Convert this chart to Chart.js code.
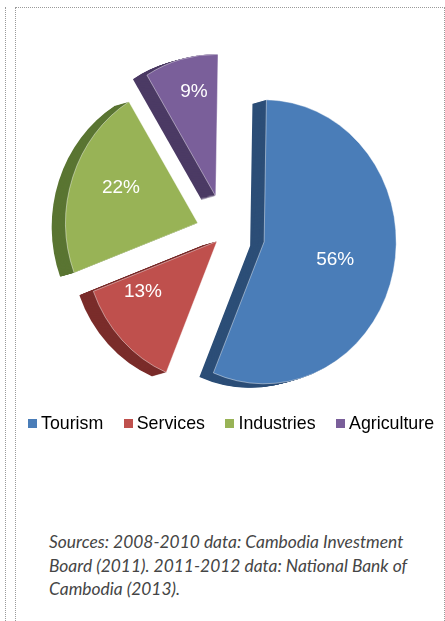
<!DOCTYPE html>
<html>
<head>
<meta charset="utf-8">
<script src="https://cdn.jsdelivr.net/npm/chart.js@4/dist/chart.umd.min.js"></script>
<style>
  html, body { margin: 0; padding: 0; background: #fff; }
  body { width: 445px; height: 621px; position: relative; overflow: hidden; }
  .rule-left { position: absolute; left: 5px; top: 7px; bottom: 0; border-left: 1px dotted #9a9a9a; }
  .frame { position: absolute; left: 15px; top: 7px; width: 428px; bottom: -2px;
           border-left: 1px dotted #9a9a9a; border-top: 1px dotted #9a9a9a; border-right: 1px dotted #9a9a9a; }
  #pieBox { position: absolute; left: 25px; top: 33px; width: 400px; height: 400px; }
  #legend { position: absolute; left: 28px; top: 413px; display: flex; gap: 20.5px;
            font-family: "Liberation Sans", Arial, sans-serif; font-size: 17.8px; color: #000; }
  #legend .item { display: flex; align-items: center; gap: 4px; white-space: nowrap; }
  #legend .sw { width: 9px; height: 9px; display: inline-block; }
  #source { position: absolute; left: 49px; top: 530px; font-family: Lato, "Open Sans", sans-serif;
            font-style: italic; font-size: 17.4px; line-height: 23.5px; color: #454545; white-space: nowrap; }
</style>
</head>
<body>
<div class="rule-left"></div>
<div class="frame"></div>
<div id="pieBox"><canvas id="pie"></canvas></div>
<div id="legend"></div>
<div id="source">Sources: 2008-2010 data: Cambodia Investment<br>Board (2011). 2011-2012 data: National Bank of<br>Cambodia (2013).</div>
<script>
// Share of investment by sector (percent)
const sectors = ['Tourism', 'Services', 'Industries', 'Agriculture'];
const shares = [56, 13, 22, 9];

// Slice colours: front face and darker side wall
const faceColors = ['#4a7db8', '#bf504d', '#98b356', '#7a5f9a'];
const sideColors = ['#2c4e77', '#7a2c2a', '#5a7532', '#4b3a64'];

// Exploded layout: distance each slice is pulled out from the centre
const explode = [43, 12, 31, 38];
// Where each percentage label sits: fraction of radius, fraction across the slice angle
const labelRadius = [0.553, 0.665, 0.631, 0.753];
const labelSweep = [0.508, 0.746, 0.549, 0.58];

const squeezeX = 0.93;          // slight perspective squash
const depth = { x: -14, y: 4 }; // extrusion of the side wall

function sliceTransform(ctx, arc, i, dx, dy) {
  const mid = (arc.startAngle + arc.endAngle) / 2;
  ctx.translate(dx, dy);
  ctx.translate(arc.x, arc.y);
  ctx.scale(squeezeX, 1);
  ctx.translate(-arc.x, -arc.y);
  ctx.translate(Math.cos(mid) * explode[i], Math.sin(mid) * explode[i]);
}

const explodedPie = {
  id: 'explodedPie',
  beforeDatasetDraw(chart, args) {
    const ctx = chart.ctx;
    const arcs = args.meta.data;
    // side walls first, so every face sits on top
    arcs.forEach((arc, i) => {
      const steps = 16;
      ctx.fillStyle = sideColors[i];
      for (let k = steps; k >= 1; k--) {
        ctx.save();
        sliceTransform(ctx, arc, i, depth.x * k / steps, depth.y * k / steps);
        ctx.beginPath();
        ctx.moveTo(arc.x, arc.y);
        ctx.arc(arc.x, arc.y, arc.outerRadius, arc.startAngle, arc.endAngle);
        ctx.closePath();
        ctx.fill();
        ctx.restore();
      }
    });
    // front faces
    arcs.forEach((arc, i) => {
      ctx.save();
      sliceTransform(ctx, arc, i, 0, 0);
      arc.draw(ctx);
      ctx.restore();
    });
    // percentage labels
    const total = shares.reduce((a, b) => a + b, 0);
    ctx.save();
    ctx.fillStyle = '#ffffff';
    ctx.font = '19px "Liberation Sans", Arial, sans-serif';
    ctx.textAlign = 'center';
    ctx.textBaseline = 'middle';
    arcs.forEach((arc, i) => {
      const mid = (arc.startAngle + arc.endAngle) / 2;
      const ang = arc.startAngle + (arc.endAngle - arc.startAngle) * labelSweep[i];
      const r = arc.outerRadius * labelRadius[i];
      const ux = Math.cos(mid) * explode[i] + Math.cos(ang) * r;
      const uy = Math.sin(mid) * explode[i] + Math.sin(ang) * r;
      ctx.fillText(Math.round(shares[i] / total * 100) + '%', arc.x + ux * squeezeX, arc.y + uy);
    });
    ctx.restore();
    return false;
  }
};

new Chart(document.getElementById('pie'), {
  type: 'pie',
  data: {
    labels: sectors,
    datasets: [{
      data: shares,
      backgroundColor: faceColors,
      borderColor: 'rgba(255,255,255,0.45)',
      borderWidth: 1
    }]
  },
  options: {
    responsive: true,
    maintainAspectRatio: false,
    animation: false,
    events: [],
    radius: 142,
    rotation: 1,
    plugins: {
      legend: { display: false },
      tooltip: { enabled: false }
    }
  },
  plugins: [explodedPie]
});

// Legend
const legend = document.getElementById('legend');
sectors.forEach((name, i) => {
  const item = document.createElement('span');
  item.className = 'item';
  const sw = document.createElement('span');
  sw.className = 'sw';
  sw.style.background = faceColors[i];
  item.appendChild(sw);
  item.appendChild(document.createTextNode(name));
  legend.appendChild(item);
});
</script>
</body>
</html>
